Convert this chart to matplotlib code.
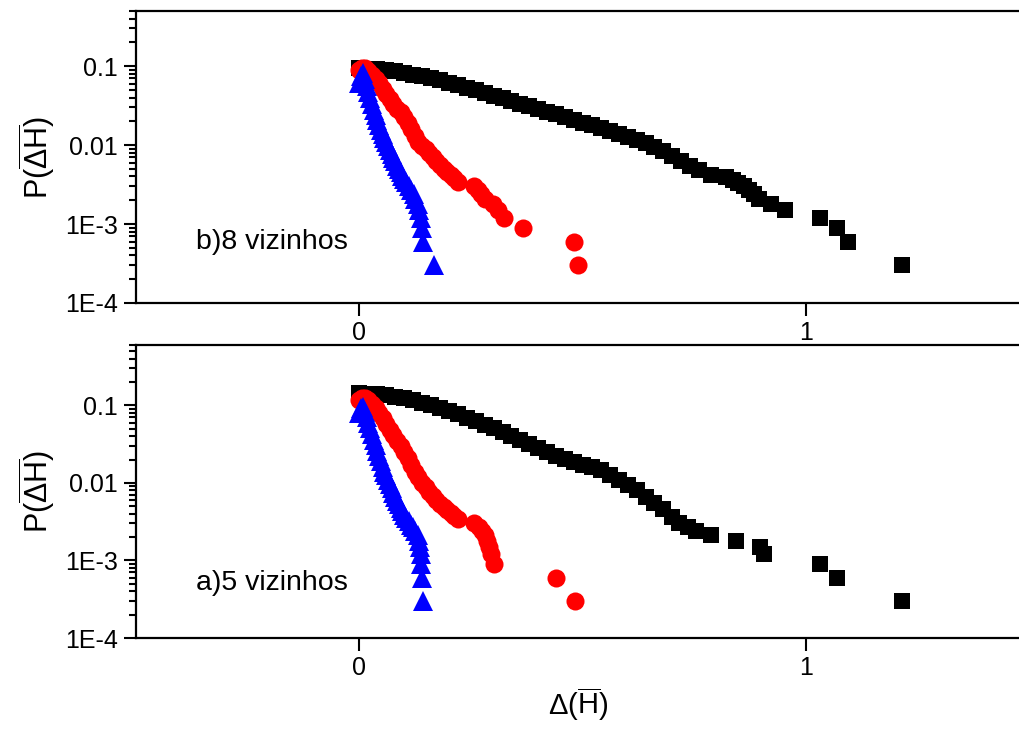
import matplotlib
matplotlib.use("Agg")
import matplotlib.pyplot as plt
from matplotlib.ticker import LogLocator, NullFormatter

plt.rcParams["font.family"] = ["Liberation Sans", "DejaVu Sans"]
plt.rcParams["mathtext.fontset"] = "custom"
plt.rcParams["mathtext.rm"] = "Liberation Sans"
plt.rcParams["mathtext.it"] = "Liberation Sans:italic"

# ---- panel b) 8 vizinhos ----
b_black_x = [0.00, 0.02, 0.04, 0.06, 0.08, 0.10, 0.12, 0.14, 0.16, 0.18, 0.20, 0.22, 0.24, 0.26,
             0.28, 0.30, 0.32, 0.34, 0.36, 0.38, 0.40, 0.42, 0.44, 0.46, 0.48, 0.50, 0.52, 0.54,
             0.56, 0.58, 0.60, 0.62, 0.64, 0.66, 0.68, 0.70, 0.72, 0.74, 0.76, 0.786, 0.819, 0.835,
             0.846, 0.86, 0.871, 0.882, 0.893, 0.92, 0.953, 1.031, 1.069, 1.092, 1.214]
b_black_y = [0.0955, 0.0933, 0.0912, 0.0881, 0.0855, 0.0826, 0.0783, 0.0740, 0.0698, 0.0658, 0.0619,
             0.0575, 0.0532, 0.0492, 0.0455, 0.0421, 0.0390, 0.0361, 0.0333, 0.0309, 0.0286, 0.0264,
             0.0244, 0.0226, 0.0209, 0.0193, 0.0179, 0.0165, 0.0151, 0.0139, 0.0127, 0.0116, 0.0106,
             0.0095, 0.0083, 0.0072, 0.0063, 0.0055, 0.0048, 0.0042, 0.0039, 0.0036, 0.0033, 0.0030,
             0.0027, 0.0024, 0.0021, 0.0018, 0.0015, 0.0012, 0.0009, 0.0006, 0.0003]
b_red_x = [0.000, 0.006, 0.012, 0.020, 0.028, 0.036, 0.044, 0.052, 0.060, 0.068, 0.076, 0.084, 0.092,
           0.100, 0.108, 0.116, 0.124, 0.132, 0.140, 0.148, 0.156, 0.164, 0.172, 0.180, 0.188, 0.196,
           0.204, 0.212, 0.221, 0.257, 0.265, 0.272, 0.280, 0.299, 0.310, 0.324, 0.366, 0.480, 0.489]
b_red_y = [0.089, 0.096, 0.095, 0.087, 0.078, 0.069, 0.061, 0.052, 0.044, 0.038, 0.033, 0.029, 0.026,
           0.023, 0.019, 0.016, 0.013, 0.011, 0.0098, 0.0088, 0.0080, 0.0071, 0.0063, 0.0056, 0.0050,
           0.0046, 0.0042, 0.0038, 0.0034, 0.0030, 0.0027, 0.0024, 0.0021, 0.0018, 0.0015, 0.0012,
           0.0009, 0.0006, 0.0003]
b_blue_x = [0.000, 0.004, 0.008, 0.012, 0.016, 0.020, 0.024, 0.028, 0.032, 0.036, 0.040, 0.044, 0.048,
            0.052, 0.056, 0.060, 0.064, 0.068, 0.072, 0.076, 0.080, 0.084, 0.088, 0.092, 0.096, 0.100,
            0.105, 0.110, 0.116, 0.121, 0.124, 0.130, 0.134, 0.138, 0.141, 0.143, 0.167]
b_blue_y = [0.062, 0.076, 0.082, 0.068, 0.056, 0.047, 0.040, 0.033, 0.028, 0.024, 0.021, 0.018, 0.0155,
            0.0137, 0.0122, 0.0108, 0.0097, 0.0087, 0.0076, 0.0068, 0.0062, 0.0055, 0.0050, 0.0045,
            0.0041, 0.0037, 0.0034, 0.0030, 0.0027, 0.0024, 0.0021, 0.0018, 0.0015, 0.0012, 0.0009,
            0.0006, 0.0003]

# ---- panel a) 5 vizinhos ----
a_black_x = [0.00, 0.02, 0.04, 0.06, 0.08, 0.10, 0.12, 0.14, 0.16, 0.18, 0.20, 0.22, 0.24, 0.26,
             0.28, 0.30, 0.32, 0.34, 0.36, 0.38, 0.40, 0.42, 0.44, 0.46, 0.48, 0.50, 0.52, 0.54,
             0.56, 0.58, 0.60, 0.62, 0.64, 0.66, 0.68, 0.70, 0.715, 0.735, 0.752, 0.786, 0.842,
             0.897, 0.904, 1.031, 1.069, 1.214]
a_black_y = [0.143, 0.141, 0.139, 0.135, 0.130, 0.125, 0.116, 0.108, 0.100, 0.0923, 0.0851, 0.0773,
             0.0695, 0.0625, 0.0562, 0.0506, 0.0454, 0.0402, 0.0356, 0.0315, 0.0279, 0.0247, 0.0223,
             0.0205, 0.0188, 0.0172, 0.0158, 0.0145, 0.0126, 0.0109, 0.0094, 0.0080, 0.0066, 0.0055,
             0.0046, 0.0036, 0.0030, 0.0027, 0.0024, 0.0021, 0.0018, 0.0015, 0.0012, 0.0009, 0.0006,
             0.0003]
a_red_x = [0.000, 0.006, 0.012, 0.020, 0.028, 0.036, 0.044, 0.052, 0.060, 0.068, 0.076, 0.084, 0.092,
           0.100, 0.108, 0.116, 0.124, 0.132, 0.140, 0.148, 0.156, 0.164, 0.172, 0.180, 0.188, 0.196,
           0.204, 0.212, 0.221, 0.257, 0.268, 0.274, 0.280, 0.285, 0.290, 0.295, 0.301, 0.440, 0.482]
a_red_y = [0.118, 0.126, 0.126, 0.118, 0.105, 0.093, 0.080, 0.068, 0.057, 0.048, 0.041, 0.035, 0.030,
           0.025, 0.021, 0.017, 0.014, 0.012, 0.010, 0.0088, 0.0077, 0.0068, 0.0060, 0.0054, 0.0049,
           0.0045, 0.0041, 0.0037, 0.0034, 0.0030, 0.0027, 0.0024, 0.0021, 0.0018, 0.0015, 0.0012,
           0.0009, 0.0006, 0.0003]
a_blue_x = [0.000, 0.004, 0.008, 0.012, 0.016, 0.020, 0.024, 0.028, 0.032, 0.036, 0.040, 0.044, 0.048,
            0.052, 0.056, 0.060, 0.064, 0.068, 0.072, 0.076, 0.080, 0.084, 0.088, 0.092, 0.096, 0.100,
            0.105, 0.110, 0.116, 0.120, 0.125, 0.130, 0.134, 0.136, 0.138, 0.138, 0.139, 0.143]
a_blue_y = [0.080, 0.092, 0.096, 0.082, 0.070, 0.060, 0.051, 0.043, 0.036, 0.031, 0.026, 0.022, 0.019,
            0.016, 0.014, 0.0125, 0.011, 0.0097, 0.0085, 0.0075, 0.0066, 0.0059, 0.0053, 0.0048,
            0.0043, 0.0039, 0.0035, 0.0032, 0.0029, 0.0027, 0.0024, 0.0021, 0.0018, 0.0015, 0.0012,
            0.0009, 0.0006, 0.0003]

ytick_vals = [1e-4, 1e-3, 1e-2, 1e-1]
ytick_labels = ["1E-4", "1E-3", "0.01", "0.1"]
xtick_vals = [0, 1]
xtick_labels = ["0", "1"]

fig = plt.figure(figsize=(10.2, 7.3), dpi=100)
ax_b = fig.add_axes([0.1333, 0.585, 0.8667, 0.400])
ax_a = fig.add_axes([0.1333, 0.126, 0.8667, 0.4014])

panels = [
    (ax_b, b_black_x, b_black_y, b_red_x, b_red_y, b_blue_x, b_blue_y, 0.5, "b)8 vizinhos", 0.209),
    (ax_a, a_black_x, a_black_y, a_red_x, a_red_y, a_blue_x, a_blue_y, 0.6, "a)5 vizinhos", 0.188),
]

for ax, kx, ky, rx, ry, bx, by, ytop, label, ty in panels:
    ax.plot(kx, ky, ls="none", marker="s", ms=11.5, color="black", mew=0)
    ax.plot(rx, ry, ls="none", marker="o", ms=13, color="red", mew=0)
    ax.plot(bx, by, ls="none", marker="^", ms=14, color="blue", mew=0)

    ax.set_yscale("log")
    ax.set_ylim(1e-4, ytop)
    ax.set_xlim(-0.5, 1.4777)

    ax.set_yticks(ytick_vals)
    ax.set_yticklabels(ytick_labels)
    ax.yaxis.set_minor_locator(LogLocator(base=10, subs=range(2, 10), numticks=20))
    ax.yaxis.set_minor_formatter(NullFormatter())
    ax.set_xticks(xtick_vals)
    ax.set_xticklabels(xtick_labels)

    ax.spines["right"].set_visible(False)
    for s in ["left", "bottom", "top"]:
        ax.spines[s].set_linewidth(1.6)
    ax.tick_params(axis="both", which="major", direction="out", length=9, width=1.5,
                   labelsize=18, right=False, top=False, pad=4)
    ax.tick_params(axis="y", which="minor", direction="out", length=5, width=1.5, right=False)

    ax.set_ylabel(r"$\mathrm{P(\overline{\Delta H})}$", fontsize=22, labelpad=6)
    ax.text(0.068, ty, label, transform=ax.transAxes, fontsize=20.5, va="center", ha="left")

ax_a.set_xlabel(r"$\mathrm{\Delta(\overline{H})}$", fontsize=21, labelpad=4)

fig.savefig("out.png", dpi=100)
